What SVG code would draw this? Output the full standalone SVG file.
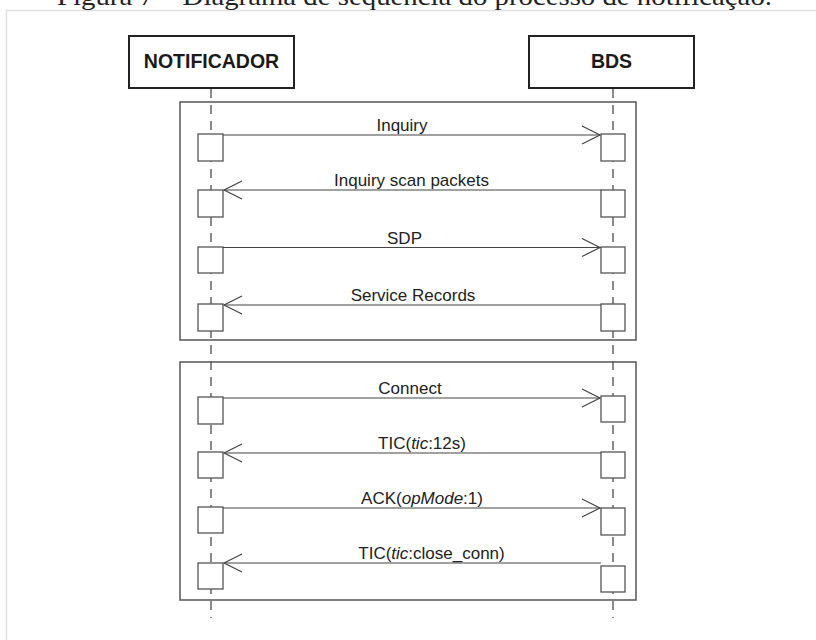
<svg xmlns="http://www.w3.org/2000/svg" width="816" height="640" viewBox="0 0 816 640">
  <style>
    .caption { font-family: "Liberation Serif", "DejaVu Serif", serif; font-size: 26px; fill: #222; }
    .head { fill: #fff; stroke: #222; stroke-width: 2; }
    .head-label { font-family: "Liberation Sans", Arial, sans-serif; font-weight: bold; font-size: 19.5px; fill: #1a1a1a; text-anchor: middle; }
    .lifeline { stroke: #8a8a8a; stroke-width: 2; stroke-dasharray: 9 7; fill: none; }
    .frame { fill: none; stroke: #555; stroke-width: 1.5; }
    .act { fill: #fff; stroke: #555; stroke-width: 1.3; }
    .msg { stroke: #444; stroke-width: 1.2; fill: none; marker-end: url(#open); }
    .label { font-family: "Liberation Sans", Arial, sans-serif; font-size: 17px; fill: #222; text-anchor: middle; }
    .it { font-style: italic; }
  </style>
  <defs>
    <marker id="open" viewBox="-20 -10 22 20" refX="0" refY="0" markerWidth="22" markerHeight="20" markerUnits="userSpaceOnUse" orient="auto">
      <path d="M-18,-9 L0,0 L-18,9" fill="none" stroke="#444" stroke-width="1.2"/>
    </marker>
  </defs>

  <rect width="816" height="640" fill="#fff"/>
  <!-- page frame and caption -->
  <path d="M6.5,640 V10.5 H816" fill="none" stroke="#e2e2e2" stroke-width="1.5"/>
  <text class="caption" x="57" y="5" textLength="715" lengthAdjust="spacingAndGlyphs">Figura 7 – Diagrama de sequência do processo de notificação.</text>

  <!-- lifelines -->
  <g id="lifelines">
    <line class="lifeline" x1="211" y1="89" x2="211" y2="618"/>
    <line class="lifeline" x1="613" y1="89" x2="613" y2="618"/>
  </g>

  <!-- interaction fragments -->
  <g id="fragment-discovery">
    <rect class="frame" x="180" y="102" width="456" height="238"/>
  </g>
  <g id="fragment-session">
    <rect class="frame" x="180" y="362" width="456" height="238"/>
  </g>

  <g id="notificador">
    <rect class="head" x="129" y="36" width="165" height="52"/>
    <text class="head-label" x="211.5" y="68">NOTIFICADOR</text>
    <rect class="act" x="198" y="134" width="25" height="27"/>
    <rect class="act" x="198" y="190" width="25" height="27"/>
    <rect class="act" x="198" y="247" width="25" height="26"/>
    <rect class="act" x="198" y="304" width="25" height="27"/>
    <rect class="act" x="198" y="397" width="25" height="27"/>
    <rect class="act" x="198" y="452" width="25" height="26"/>
    <rect class="act" x="198" y="507" width="25" height="26"/>
    <rect class="act" x="198" y="563" width="25" height="26"/>
  </g>

  <g id="bds">
    <rect class="head" x="529" y="36" width="165" height="52"/>
    <text class="head-label" x="611.5" y="68">BDS</text>
    <rect class="act" x="601" y="134" width="24" height="27"/>
    <rect class="act" x="601" y="190" width="24" height="27"/>
    <rect class="act" x="601" y="247" width="24" height="26"/>
    <rect class="act" x="601" y="304" width="24" height="27"/>
    <rect class="act" x="601" y="396" width="24" height="26"/>
    <rect class="act" x="601" y="452" width="24" height="26"/>
    <rect class="act" x="601" y="508" width="24" height="27"/>
    <rect class="act" x="601" y="566" width="24" height="26"/>
  </g>

  <g id="messages">
    <line class="msg" x1="223" y1="135" x2="600" y2="135"/>
    <text class="label" x="402" y="131">Inquiry</text>

    <line class="msg" x1="601" y1="190" x2="224" y2="190"/>
    <text class="label" x="411.5" y="186">Inquiry scan packets</text>

    <line class="msg" x1="223" y1="247.5" x2="600" y2="247.5"/>
    <text class="label" x="404.5" y="244">SDP</text>

    <line class="msg" x1="601" y1="305" x2="224" y2="305"/>
    <text class="label" x="413" y="301">Service Records</text>

    <line class="msg" x1="223" y1="398" x2="600" y2="398"/>
    <text class="label" x="410" y="394">Connect</text>

    <line class="msg" x1="601" y1="453" x2="224" y2="453"/>
    <text class="label" x="422" y="449">TIC(<tspan class="it">tic</tspan>:12s)</text>

    <line class="msg" x1="223" y1="508" x2="600" y2="508"/>
    <text class="label" x="422" y="504">ACK(<tspan class="it">opMode</tspan>:1)</text>

    <line class="msg" x1="601" y1="563" x2="224" y2="563"/>
    <text class="label" x="431.5" y="559">TIC(<tspan class="it">tic</tspan>:close_conn)</text>
  </g>
</svg>
